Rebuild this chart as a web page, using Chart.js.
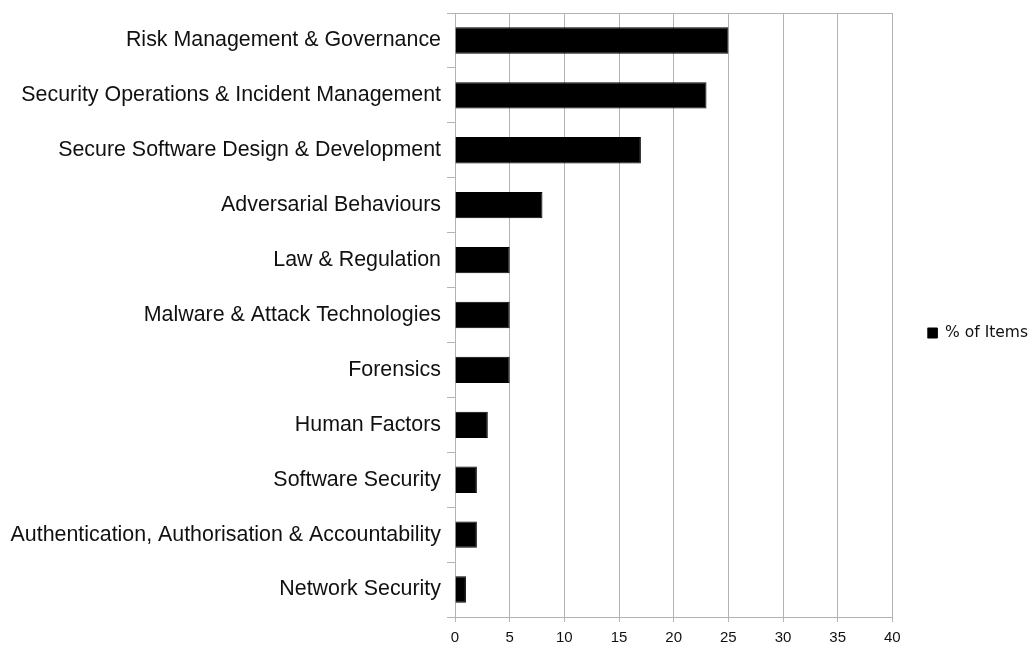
<!DOCTYPE html>
<html>
<head>
<meta charset="utf-8">
<title>% of Items by topic</title>
<script src="https://cdn.jsdelivr.net/npm/chart.js@4/dist/chart.umd.min.js"></script>
<style>
    html, body { margin: 0; padding: 0; background: #ffffff; }
    #wrap { width: 1028px; height: 646px; position: relative; }
</style>
</head>
<body>
<div id="wrap"><canvas id="chartItems"></canvas></div>
<script>
// Datos
const categories = [
    'Risk Management & Governance',
    'Security Operations & Incident Management',
    'Secure Software Design & Development',
    'Adversarial Behaviours',
    'Law & Regulation',
    'Malware & Attack Technologies',
    'Forensics',
    'Human Factors',
    'Software Security',
    'Authentication, Authorisation & Accountability',
    'Network Security'
];
const percentItems = [25, 23, 17, 8, 5, 5, 5, 3, 2, 2, 1];
const seriesLabel = '% of Items';
const xMin = 0;
const xMax = 40;
const xStep = 5;

// Colores
const gridGray = '#b3b3b3';
const textColor = '#111111';

Chart.defaults.font.family = "'Liberation Sans', Arial, sans-serif";
Chart.defaults.color = textColor;

new Chart(document.getElementById('chartItems'), {
    type: 'bar',
    data: {
        labels: categories,
        datasets: [{
            label: seriesLabel,
            data: percentItems,
            backgroundColor: '#000000',
            borderColor: '#000000',
            borderWidth: 1,
            categoryPercentage: 1,
            barPercentage: 0.48
        }]
    },
    options: {
        indexAxis: 'y',
        responsive: true,
        maintainAspectRatio: false,
        animation: false,
        layout: {
            padding: { top: 13, left: 8, right: -10, bottom: -7 }
        },
        scales: {
            x: {
                min: xMin,
                max: xMax,
                ticks: {
                    stepSize: xStep,
                    padding: 8,
                    font: { size: 15, lineHeight: 1 },
                    color: textColor
                },
                grid: {
                    color: gridGray,
                    tickLength: 5
                },
                border: { color: gridGray }
            },
            xTop: {
                type: 'linear',
                position: 'top',
                min: xMin,
                max: xMax,
                ticks: { display: false },
                grid: { drawOnChartArea: false, drawTicks: false },
                border: { color: gridGray }
            },
            y: {
                ticks: {
                    padding: 6,
                    font: { size: 21.4 },
                    color: textColor
                },
                grid: {
                    drawOnChartArea: false,
                    color: gridGray,
                    tickLength: 8
                },
                border: { color: gridGray },
                // ancho fijo para que entren las etiquetas largas,
                // sin margen extra arriba/abajo por las etiquetas
                afterFit: function (scale) {
                    scale.width = 447;
                    scale.paddingTop = 0;
                    scale.paddingBottom = 0;
                }
            },
            // eje vacío: deja hueco entre el gráfico y la leyenda
            gap: {
                type: 'linear',
                position: 'right',
                ticks: { display: false },
                grid: { display: false },
                border: { display: false },
                afterFit: function (scale) {
                    scale.width = 35;
                }
            }
        },
        plugins: {
            legend: {
                position: 'right',
                labels: {
                    boxWidth: 10,
                    boxHeight: 10,
                    padding: 0,
                    font: { family: "'DejaVu Sans', sans-serif", size: 15.5 },
                    color: textColor
                }
            },
            tooltip: { enabled: false }
        }
    }
});
</script>
</body>
</html>
